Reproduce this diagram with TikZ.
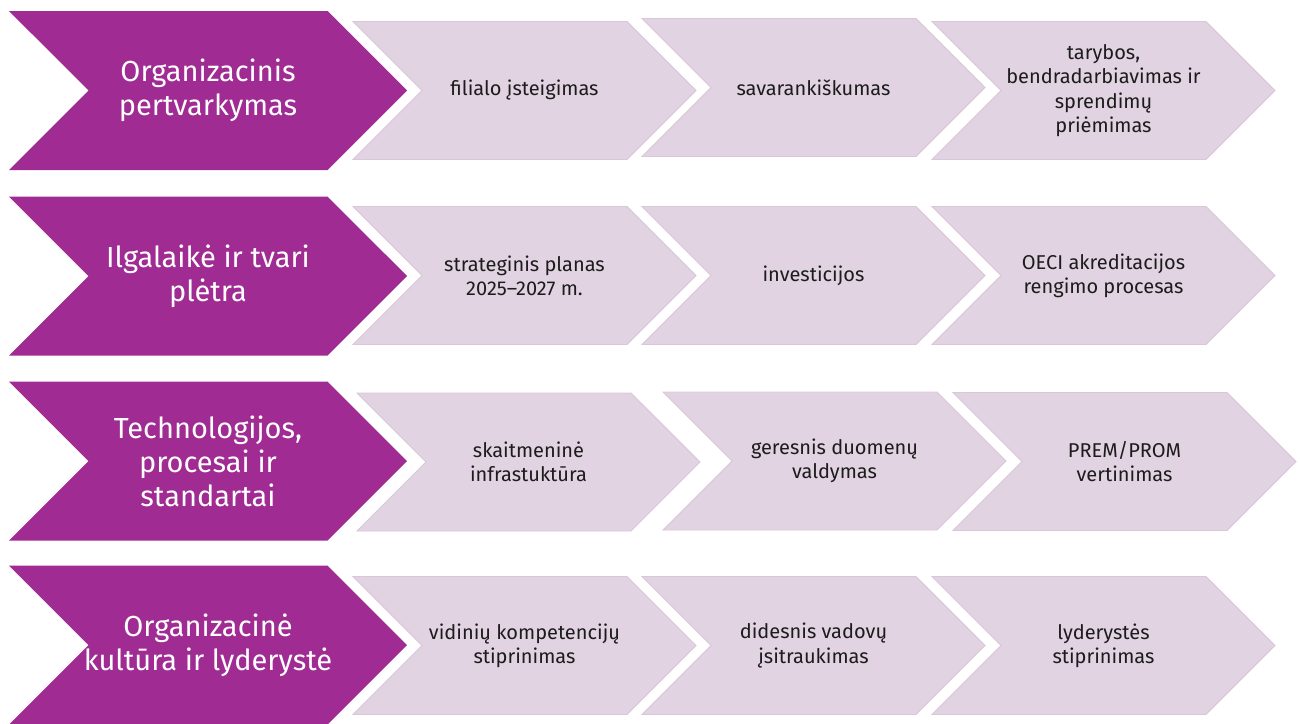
\documentclass[tikz,border=0pt]{standalone}
\usepackage{fontspec}
\setmainfont{Fira Sans}
\usetikzlibrary{shapes.symbols, positioning}
\definecolor{planPurple}{HTML}{A02B93}
\definecolor{planLight}{HTML}{E1D3E1}
\definecolor{planEdge}{HTML}{D9C6D9}
\definecolor{planText}{HTML}{1C1C1C}
\tikzset{
  chevBig/.style={signal, signal from=west, signal to=east, signal pointer angle=90,
    fill=planPurple, inner sep=0pt, minimum width=398pt, minimum height=159pt},
  bigText/.style={text=white, align=center, inner sep=0pt,
    font=\fontsize{29}{34}\selectfont},
  chevStep/.style={signal, signal from=west, signal to=east, signal pointer angle=90,
    fill=planLight, draw=planEdge, line width=0.8pt, text=planText, align=center,
    inner sep=0pt, minimum width=343pt, minimum height=138pt,
    font=\fontsize{20}{24.3}\selectfont},
}
\begin{document}
\begin{tikzpicture}[x=1pt, y=-1pt]
  \useasboundingbox (0,0) rectangle (1300,723);
  % 1 eilute
  \node[chevBig] (org) at (208,90.5) {};
  \node[bigText] (orgTxt) at (org.center) {Organizacinis\\pertvarkymas};
  \node[chevStep] (org1) at (524.5,90.5) {filialo įsteigimas};
  \node[chevStep] (org2) at (813.5,87.5) {savarankiškumas};
  \node[chevStep] (org3) at (1103.5,90.5) {tarybos,\\bendradarbiavimas ir\\sprendimų\\priėmimas};
  % 2 eilute
  \node[chevBig] (ilg) at (208,276) {};
  \node[bigText] (ilgTxt) at (ilg.center) {Ilgalaikė ir tvari\\plėtra};
  \node[chevStep] (ilg1) at (524.5,275.5) {strateginis planas\\2025–2027 m.};
  \node[chevStep] (ilg2) at (813.5,275.5) {investicijos};
  \node[chevStep] (ilg3) at (1103.5,275.5) {OECI akreditacijos\\rengimo procesas};
  % 3 eilute
  \node[chevBig] (tech) at (208,461) {};
  \node[bigText] (techTxt) at (tech.center) {Technologijos,\\procesai ir\\standartai};
  \node[chevStep] (tech1) at (528.5,462) {skaitmeninė\\infrastuktūra};
  \node[chevStep] (tech2) at (834.5,461) {geresnis duomenų\\valdymas};
  \node[chevStep] (tech3) at (1124.5,461.5) {PREM/PROM\\vertinimas};
  % 4 eilute
  \node[chevBig] (kult) at (208,645) {};
  \node[bigText] (kultTxt) at (kult.center) {Organizacinė\\kultūra ir lyderystė};
  \node[chevStep] (kult1) at (524.5,645.5) {vidinių kompetencijų\\stiprinimas};
  \node[chevStep] (kult2) at (813.5,645.5) {didesnis vadovų\\įsitraukimas};
  \node[chevStep] (kult3) at (1103.5,645.5) {lyderystės\\stiprinimas};
\end{tikzpicture}
\end{document}
